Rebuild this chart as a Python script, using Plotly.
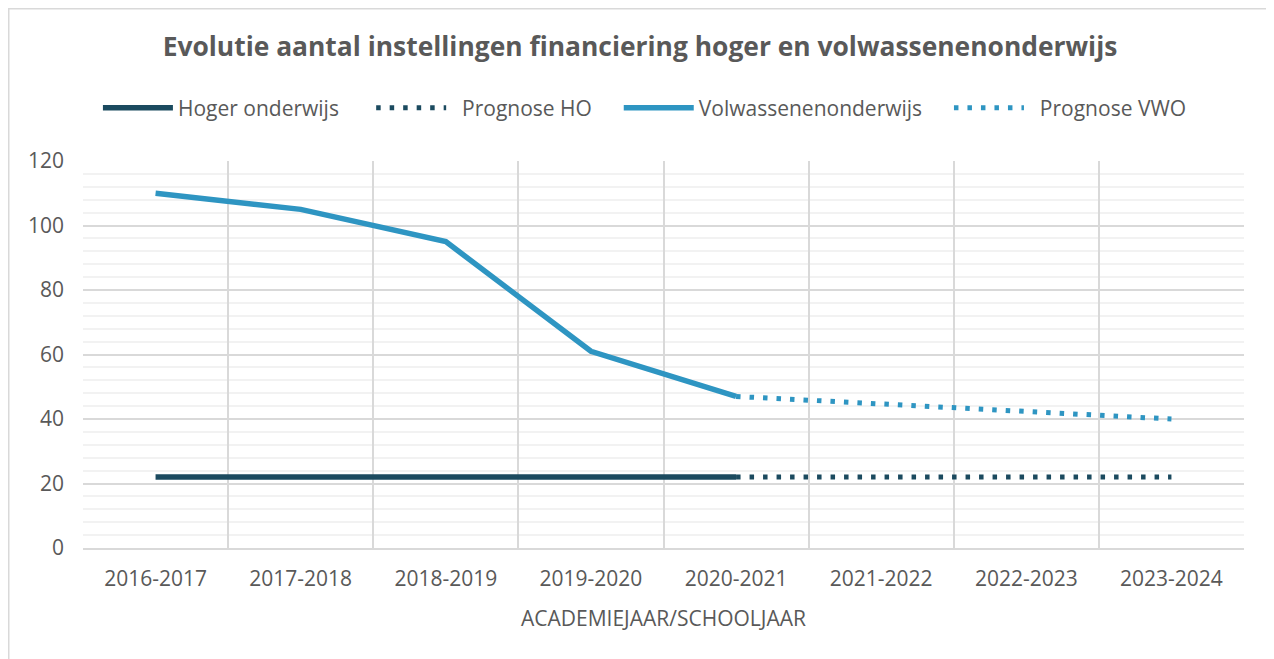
import plotly.graph_objects as go

categories = ["2016-2017", "2017-2018", "2018-2019", "2019-2020", "2020-2021",
              "2021-2022", "2022-2023", "2023-2024"]
ho_values = [22, 22, 22, 22, 22, None, None, None]
prognose_ho = [None, None, None, None, 22, 22, 22, 22]
vwo_values = [110, 105, 95, 61, 47, None, None, None]
prognose_vwo = [None, None, None, None, 47, 44.7, 42.3, 40]
y_ticks = [0, 20, 40, 60, 80, 100, 120]

C_HO = "#1B4A5F"
C_VWO = "#2E95C2"
TXT = "#595959"
FONT = "Open Sans"
NB = "\u00a0"

W, H = 1274, 659
L, R, T, B = 75, 38, 153, 119
pw = W - L - R
ph = H - T - B


def px(fx):
    return (fx - L) / pw


def py(fy):
    return (H - B - fy) / ph


fig = go.Figure()
fig.add_trace(go.Scatter(x=categories, y=ho_values, name="Hoger onderwijs" + NB * 5, mode="lines",
                         line=dict(color=C_HO, width=5.5)))
fig.add_trace(go.Scatter(x=categories, y=prognose_ho, name=NB * 2 + "Prognose HO" + NB * 4, mode="lines",
                         line=dict(color=C_HO, width=5, dash="4.5px,9px")))
fig.add_trace(go.Scatter(x=categories, y=vwo_values, name="Volwassenenonderwijs" + NB * 4, mode="lines",
                         line=dict(color=C_VWO, width=5.5)))
fig.add_trace(go.Scatter(x=categories, y=prognose_vwo, name=NB * 2 + "Prognose VWO", mode="lines",
                         line=dict(color=C_VWO, width=5, dash="4.5px,9px")))

fig.add_shape(type="rect", xref="paper", yref="paper",
              x0=px(0.75), x1=px(1265), y0=py(H + 10), y1=py(0.75),
              line=dict(color="#D9D9D9", width=1.5), fillcolor="rgba(0,0,0,0)", layer="below")

fig.update_layout(
    width=W, height=H,
    margin=dict(l=L, r=R, t=T, b=B),
    paper_bgcolor="white", plot_bgcolor="white",
    font=dict(family=FONT, color=TXT),
    title=dict(text="<b>Evolutie aantal instellingen financiering hoger en volwassenenonderwijs</b>",
               x=632 / W, xanchor="center", y=1 - 39 / H, yanchor="middle",
               font=dict(size=26.4, color=TXT, family=FONT)),
    legend=dict(orientation="h", x=0.484, xanchor="center", y=py(100), yanchor="middle",
                font=dict(size=21, color=TXT), itemwidth=70, bgcolor="rgba(0,0,0,0)"),
    showlegend=True,
)
fig.update_xaxes(type="category", tickson="boundaries", showgrid=True, gridcolor="#D9D9D9",
                 gridwidth=1.5, showline=True, linecolor="#D9D9D9", linewidth=1.5,
                 ticks="", tickfont=dict(size=21, color=TXT), ticklabelstandoff=11,
                 title=dict(text="ACADEMIEJAAR/SCHOOLJAAR", font=dict(size=21, color=TXT), standoff=20),
                 range=[-0.5, 7.5])
fig.update_yaxes(range=[0, 120], tickvals=y_ticks, showgrid=True, gridcolor="#D9D9D9", gridwidth=1.5,
                 minor=dict(dtick=4, showgrid=True, gridcolor="#F2F2F2", gridwidth=1.5),
                 zeroline=False, showline=False, ticks="", tickfont=dict(size=21, color=TXT),
                 ticklabelstandoff=18)

fig.write_html("out.html")
